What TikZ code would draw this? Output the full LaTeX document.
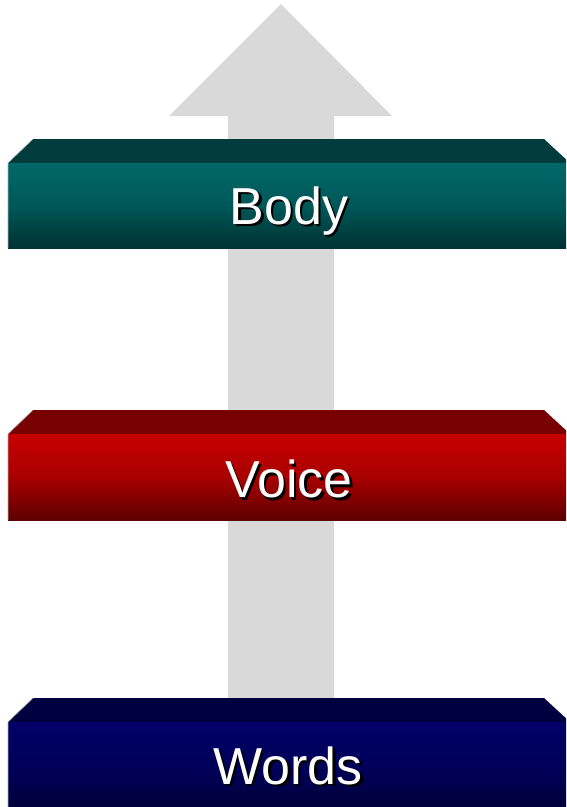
\documentclass[tikz,border=0pt]{standalone}
\usepackage{fontspec}
\setmainfont{Liberation Sans}
\definecolor{arrowgray}{HTML}{D9D9D9}
\definecolor{tealtop}{HTML}{003C3C}
\definecolor{tealhi}{HTML}{006868}
\definecolor{teallo}{HTML}{003232}
\definecolor{redtop}{HTML}{780000}
\definecolor{redhi}{HTML}{C80000}
\definecolor{redlo}{HTML}{5E0000}
\definecolor{bluetop}{HTML}{000040}
\definecolor{bluehi}{HTML}{000068}
\definecolor{bluelo}{HTML}{000030}
\newcommand{\shadowed}[1]{%
  \makebox[0pt][l]{\hspace{2.5pt}\raisebox{-2.5pt}{\textcolor{black}{#1}}}#1}
\tikzset{
  label text/.style={text=white, font=\fontsize{52}{52}\selectfont, inner sep=0pt, anchor=base},
  edge line/.style={draw=gray!60, line width=0.6pt}
}
\newcommand{\slab}[6]{%
  \fill[#4] (8,#2) -- (33,#1) -- (544,#1) -- (570,#2) -- cycle;
  \shade[top color=#5, bottom color=#6, middle color=#5!70!#6] (8,#2) rectangle (570,#3);
  \draw[edge line] (8,#3) -- (8,#2) -- (33,#1);
}
\begin{document}
\begin{tikzpicture}[x=1pt,y=-1pt]
\useasboundingbox (0,0) rectangle (566,807);
\clip (0,0) rectangle (566,807);
\fill[white] (0,0) rectangle (566,807);
% arrow
\fill[arrowgray] (281,4) -- (392,116) -- (334,116) -- (334,705) -- (228,705) -- (228,116) -- (169,116) -- cycle;
% slabs
\slab{139}{163}{248}{tealtop}{tealhi}{teallo}
\slab{410}{434}{520}{redtop}{redhi}{redlo}
\slab{698}{722}{820}{bluetop}{bluehi}{bluelo}
% labels
\node[label text] (body) at (289,224) {\shadowed{Body}};
\node[label text] (voice) at (289,497.5) {\shadowed{Voice}};
\node[label text] (words) at (288,784) {\shadowed{Words}};
\end{tikzpicture}
\end{document}
